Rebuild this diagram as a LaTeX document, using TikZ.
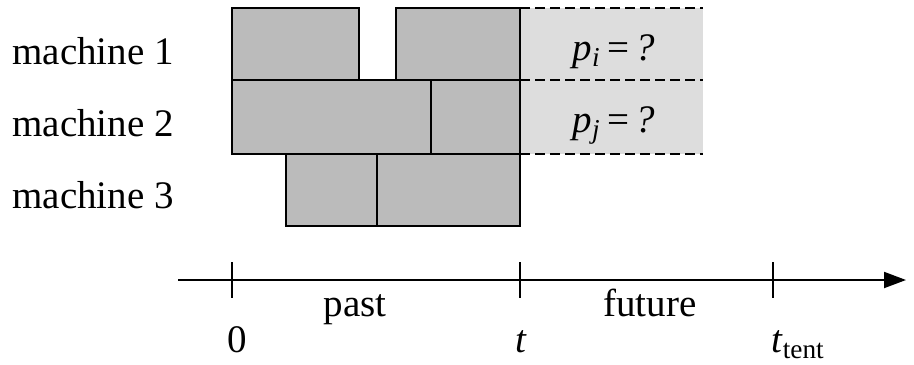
\documentclass[tikz,border=0pt]{standalone}
\usepackage{fontspec}
\setmainfont{Liberation Serif}
\usetikzlibrary{positioning, calc, arrows.meta}
\definecolor{JobGray}{HTML}{BBBBBB}
\definecolor{FutureGray}{HTML}{DDDDDD}
\tikzset{
    job/.style={draw=black, fill=JobGray, line width=1pt},
    futureline/.style={dashed, dash pattern=on 5pt off 2.5pt, line width=0.8pt},
    label/.style={font=\fontsize{19.5}{22}\selectfont, inner sep=0pt, anchor=base},
    tick/.style={line width=0.8pt},
    axis/.style={line width=1pt, -{Triangle[length=11pt, width=8pt]}},
}
\begin{document}
\begin{tikzpicture}[x=0.5pt, y=-0.5pt]
    \useasboundingbox (0,0) rectangle (914,364);

    % Future
    \fill[FutureGray] (520,8) rectangle (703,154);
    \foreach \y in {8,80,154} \draw[futureline] (520,\y) -- (703,\y);

    % Jobs
    \draw[job] (232,8) rectangle (359,80);
    \draw[job] (396,8) rectangle (520,80);
    \draw[job] (232,80) rectangle (431,154);
    \draw[job] (431,80) rectangle (520,154);
    \draw[job] (286,154) rectangle (377,226);
    \draw[job] (377,154) rectangle (520,226);

    % Machines
    \foreach \m/\y in {1/64,2/136,3/208}
        \node[label, anchor=base west] (m\m) at (12,\y) {machine \m};

    \node[label] (pi) at (614,60) {\textit{p\textsubscript{i}}\,=\,\textit{?}};
    \node[label] (pj) at (614,132) {\textit{p\textsubscript{j}}\,=\,\textit{?}};

    % Time axis
    \coordinate (start) at (178,280);
    \coordinate (end) at (906,280);
    \draw[axis] (start) -- (end);
    \foreach \x/\n in {232/zero,520/now,773/tent}
        \draw[tick] (\x,262) coordinate (\n) -- (\x,298);

    \node[label] (past) at (355,316) {past};
    \node[label] (future) at (650,316) {future};
    \node[label] (l0) at (237,352) {0};
    \node[label] (lt) at (521,352) {\textit{t}};
    \node[label] (ltent) at (798,352) {\textit{t}\textsubscript{tent}};
\end{tikzpicture}
\end{document}
